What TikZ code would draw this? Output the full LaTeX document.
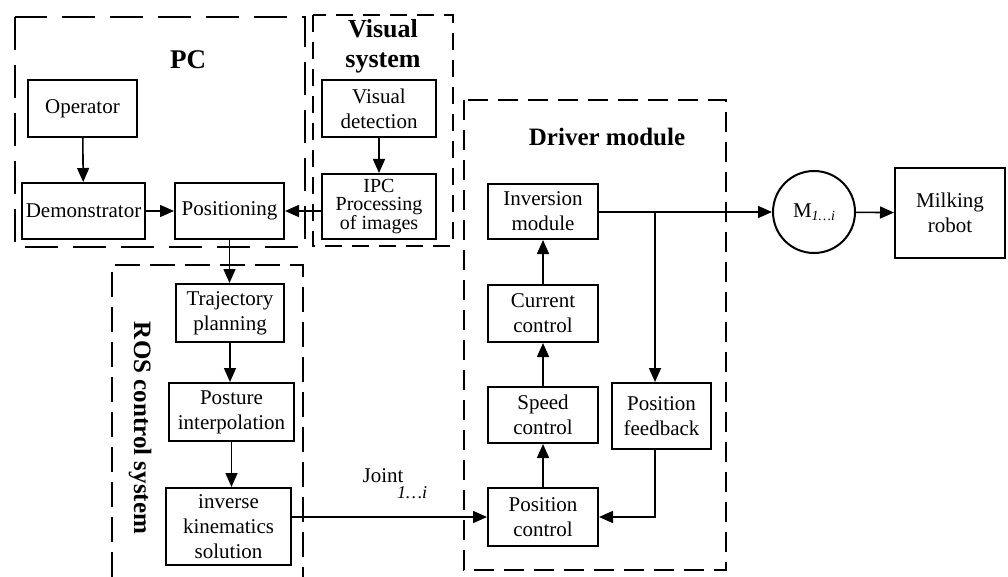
\documentclass[tikz,border=0pt]{standalone}
\usepackage{fontspec}
\setmainfont{Liberation Serif}
\usetikzlibrary{arrows.meta}

\tikzset{
  blk/.style={draw, line width=2pt, align=center, inner sep=0pt,
    font=\fontsize{21}{25}\selectfont},
  grp/.style={draw, line width=2.8pt, dash pattern=on 22pt off 11pt},
  grptitle/.style={font=\fontsize{26}{30}\selectfont\bfseries, align=center, inner sep=0pt},
  conn/.style={line width=1.6pt, -{Triangle[length=14pt,width=12pt]}}
}

\begin{document}
\begin{tikzpicture}[x=1pt,y=-1pt]
\useasboundingbox (0,0) rectangle (1008,577);

% group frames
\draw[grp, dash pattern=on 33pt off 15pt] (15,17) rectangle (305,247);
\draw[grp, dash pattern=on 17pt off 10pt] (313,15) rectangle (453,246);
\draw[grp, dash pattern=on 25pt off 10pt] (112,577) -- (112,265) -- (303,265) -- (303,577);
\draw[grp, dash pattern=on 20pt off 10pt] (464,100) rectangle (726,570);

% group titles
\node[grptitle, font=\fontsize{27}{30}\selectfont\bfseries] (tpc) at (188,60) {PC};
\node[grptitle] (tvis) at (383,46) {Visual\\system};
\node[grptitle, font=\fontsize{25}{30}\selectfont\bfseries] (tdrv) at (607,137) {Driver module};
\node[grptitle, font=\fontsize{25}{30}\selectfont\bfseries, rotate=-90] (tros) at (140,428) {ROS control system};

% PC and visual system blocks
\node[blk, minimum width=109pt, minimum height=57pt] (op)   at (82.5,108.5) {Operator};
\node[blk, minimum width=123pt, minimum height=56pt] (dem)  at (83.5,211) {Demonstrator};
\node[blk, minimum width=109pt, minimum height=56pt] (pos)  at (229.5,211) {Positioning};
\node[blk, minimum width=114pt, minimum height=57pt] (vdet) at (379,108.5) {Visual\\detection};
\node[blk, minimum width=114pt, minimum height=65pt, font=\fontsize{20}{18.5}\selectfont] (ipc) at (379,206.5) {IPC\\Processing\\of images};

% ROS control system blocks
\node[blk, minimum width=108pt, minimum height=58pt] (traj) at (230,313) {Trajectory\\planning};
\node[blk, minimum width=125pt, minimum height=58pt] (post) at (231.5,412) {Posture\\interpolation};
\node[blk, minimum width=125pt, minimum height=77pt] (ik)   at (228.5,526.5) {inverse\\kinematics\\solution};

% driver module blocks
\node[blk, minimum width=110pt, minimum height=55pt] (inv)  at (543,211.5) {Inversion\\module};
\node[blk, minimum width=110pt, minimum height=57pt] (cur)  at (543,313.5) {Current\\control};
\node[blk, minimum width=110pt, minimum height=56pt] (spd)  at (543,415) {Speed\\control};
\node[blk, minimum width=110pt, minimum height=58pt] (pctl) at (543,517) {Position\\control};
\node[blk, minimum width=99pt,  minimum height=66pt] (pfb)  at (661.5,416) {Position\\feedback};

% motor and robot
\node[draw, circle, line width=2pt, minimum size=82pt, inner sep=0pt,
      font=\fontsize{21}{25}\selectfont] (mot) at (814,212)
      {M\raisebox{-3pt}{\fontsize{14}{16}\selectfont\itshape 1\ldots i}};
\node[blk, minimum width=110pt, minimum height=90pt] (robot) at (950,213) {Milking\\robot};

% joint label
\node[inner sep=0pt, font=\fontsize{21}{25}\selectfont] (jnt) at (383,476) {Joint};
\node[inner sep=0pt, font=\fontsize{18}{20}\selectfont\itshape] (jsub) at (412,493) {1\ldots i};

% connectors
\draw[conn] (op) -- (dem);
\draw[conn] (dem) -- (pos);
\draw[conn] (vdet) -- (ipc);
\draw[conn] (ipc.west |- pos.east) -- (pos.east);
\draw[conn] (pos) -- (pos |- traj.north);
\draw[conn] (traj) -- (traj |- post.north);
\draw[conn] (post) -- (post |- ik.north);
\draw[conn] (ik.east |- pctl.west) -- (pctl.west);
\draw[conn] (pctl) -- (spd);
\draw[conn] (spd) -- (cur);
\draw[conn] (cur) -- (inv);
\coordinate (br) at (655,212);
\draw[conn] (inv.east |- mot.west) -- (mot.west);
\draw[conn] (br) -- (br |- pfb.north);
\draw[conn] (br |- pfb.south) -- (br |- pctl.east) -- (pctl.east);
\draw[conn] (mot) -- (robot);
\end{tikzpicture}
\end{document}
